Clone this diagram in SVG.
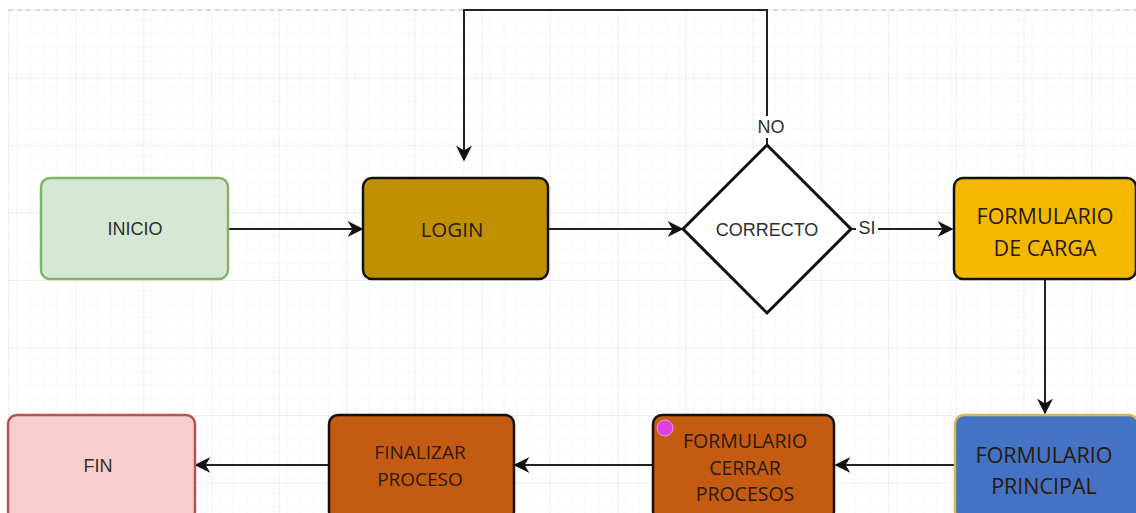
<svg xmlns="http://www.w3.org/2000/svg" width="1136" height="513" viewBox="0 0 1136 513">
  <defs>
    <pattern id="minor" x="8" y="10" width="13.54" height="13.5" patternUnits="userSpaceOnUse">
      <path d="M 13.54 0 L 0 0 0 13.5" fill="none" stroke="#f0f0f0" stroke-width="1"/>
    </pattern>
    <pattern id="major" x="8" y="10" width="67.7" height="67.5" patternUnits="userSpaceOnUse">
      <rect width="67.7" height="67.5" fill="url(#minor)"/>
      <path d="M 67.7 0 L 0 0 0 67.5" fill="none" stroke="#e0e0e0" stroke-width="1"/>
    </pattern>
    <marker id="arrowL" viewBox="0 0 10 10" refX="9" refY="5" markerWidth="16" markerHeight="16" markerUnits="userSpaceOnUse" orient="auto">
      <path d="M 0 0 L 10 5 L 0 10 L 3 5 Z" fill="#111"/>
    </marker>
  </defs>
  <style>
    .conn { fill: none; stroke: #222; stroke-width: 2; marker-end: url(#arrowL); }
    .box { stroke-width: 2.5; }
    .arial { font-family: "Liberation Sans", Arial, sans-serif; fill: #2e2e2e; font-size: 18px; }
    .cal { font-family: "Open Sans", "Liberation Sans", sans-serif; fill: #2a1a0a; }
    text { text-anchor: middle; dominant-baseline: central; }
  </style>

  <!-- canvas grid -->
  <rect width="1136" height="513" fill="#ffffff"/>
  <rect x="8" y="10" width="1128" height="503" fill="url(#major)"/>
  <line x1="8" y1="10" x2="1136" y2="10" stroke="#bdbdbd" stroke-width="1" stroke-dasharray="5 4"/>

  <!-- connectors -->
  <g id="connectors">
    <path class="conn" d="M 228 229 L 362 229"/>
    <path class="conn" d="M 548 229 L 682 229"/>
    <path class="conn" d="M 851 229 L 952 229"/>
    <path class="conn" d="M 767 145 L 767 10 L 464 10 L 464 160"/>
    <path class="conn" d="M 1045 279 L 1045 413"/>
    <path class="conn" d="M 954 465 L 836 465"/>
    <path class="conn" d="M 652 465 L 515 465"/>
    <path class="conn" d="M 328 465 L 196 465"/>
    <rect x="755" y="116" width="32" height="22" fill="#ffffff"/>
    <text class="arial" x="771" y="127" font-size="17">NO</text>
    <rect x="856" y="218" width="22" height="21" fill="#ffffff"/>
    <text class="arial" x="867" y="228" font-size="17">SI</text>
  </g>

  <g id="inicio">
    <rect class="box" x="41" y="178" width="187" height="101" rx="9" fill="#d5e8d4" stroke="#82b366"/>
    <text class="arial" x="135" y="229">INICIO</text>
  </g>

  <g id="login">
    <rect class="box" x="363" y="178" width="185" height="101" rx="9" fill="#bf9000" stroke="#111"/>
    <text class="cal" x="452" y="229" font-size="20.5">LOGIN</text>
  </g>

  <g id="correcto">
    <polygon points="767,145 851,229 767,313 683,229" fill="#ffffff" stroke="#111" stroke-width="3"/>
    <text class="arial" x="767" y="230" font-size="19">CORRECTO</text>
  </g>

  <g id="formulario-carga">
    <rect class="box" x="954" y="178" width="182" height="101" rx="9" fill="#f5b800" stroke="#111"/>
    <text class="cal" x="1045" y="215" font-size="21.5">FORMULARIO</text>
    <text class="cal" x="1045" y="247" font-size="21.5">DE CARGA</text>
  </g>

  <g id="formulario-principal">
    <rect class="box" x="955" y="415" width="183" height="105" rx="9" fill="#4472c4" stroke="#d6b656"/>
    <text class="cal" x="1044" y="454" font-size="21.5" fill="#1a1a2a">FORMULARIO</text>
    <text class="cal" x="1044" y="485" font-size="21.5" fill="#1a1a2a">PRINCIPAL</text>
  </g>

  <g id="formulario-cerrar">
    <rect class="box" x="653" y="415" width="181" height="105" rx="9" fill="#c55a11" stroke="#111"/>
    <circle cx="665" cy="428" r="8" fill="#e040e0" stroke="#f090f0" stroke-width="1"/>
    <text class="cal" x="745" y="440" font-size="19.5">FORMULARIO</text>
    <text class="cal" x="745" y="467" font-size="19.5">CERRAR</text>
    <text class="cal" x="745" y="493" font-size="19.5">PROCESOS</text>
  </g>

  <g id="finalizar-proceso">
    <rect class="box" x="329" y="415" width="185" height="105" rx="9" fill="#c55a11" stroke="#111"/>
    <text class="cal" x="420" y="452" font-size="19">FINALIZAR</text>
    <text class="cal" x="420" y="479" font-size="19">PROCESO</text>
  </g>

  <g id="fin">
    <rect class="box" x="8" y="415" width="187" height="105" rx="9" fill="#f8cecc" stroke="#b85450"/>
    <text class="arial" x="98" y="466">FIN</text>
  </g>
</svg>
